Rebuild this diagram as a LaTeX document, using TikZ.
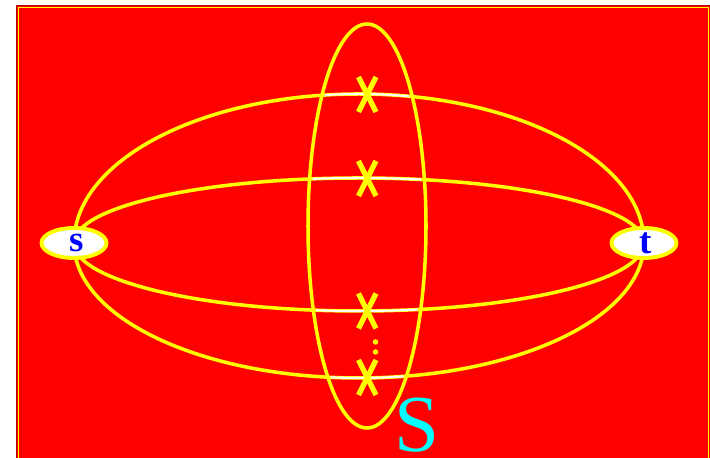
\documentclass[tikz,border=0pt]{standalone}
\usepackage{fontspec}
\setmainfont{Liberation Serif}
\usetikzlibrary{shapes.geometric, positioning}
\definecolor{Cut_Red}{HTML}{FF0000}
\definecolor{Cut_Edge}{HTML}{B00000}
\definecolor{Cut_Yellow}{HTML}{FFFF00}
\definecolor{Cut_Blue}{HTML}{0000FF}
\definecolor{Cut_Cyan}{HTML}{00FFFF}

\tikzset{
    terminal/.style={ellipse, draw=Cut_Yellow, line width=2.2pt, fill=white,
        minimum width=1.3cm, minimum height=0.6cm, inner sep=0pt,
        text=Cut_Blue, font=\fontsize{21}{24}\selectfont\bfseries},
    path edge/.style={draw=Cut_Yellow, line width=2pt},
    cut edge/.style={draw=white, line width=1.2pt},
    cut mark/.style={draw=Cut_Yellow, line width=3pt}
}

\begin{document}
\begin{tikzpicture}
    \useasboundingbox (0,0) rectangle (14.2,9.16);
    \clip (0,0) rectangle (14.2,9.16);

    % ===== Background panel =====
    \fill[Cut_Red] (0.32,-0.3) rectangle (14.2,9.06);
    \draw[Cut_Edge, line width=0.6pt] (0.33,-0.3) -- (0.33,9.05) -- (14.3,9.05);
    \draw[Cut_Yellow, line width=0.6pt] (0.37,-0.3) -- (0.37,9.01) -- (14.17,9.01) -- (14.17,-0.3);

    % ===== Terminals and cut centre =====
    \coordinate (sc) at (1.48,4.30);
    \coordinate (tc) at (12.88,4.30);
    \coordinate (cutc) at (7.34,4.64);

    % s-t paths (upper and lower halves)
    \foreach \ry/\ea in {2.98/0, 1.30/0, 1.36/360, 2.70/360}
        \draw[path edge] (sc) arc[start angle=180, end angle=\ea, x radius=5.7, y radius=\ry];

    % The cut S
    \draw[path edge] (cutc) ellipse [x radius=1.18, y radius=4.04];

    % Edges inside the cut are shown white
    \begin{scope}
        \clip (cutc) ellipse [x radius=1.12, y radius=3.98];
        \foreach \ry/\ea in {2.98/0, 1.30/0, 1.36/360, 2.70/360}
            \draw[cut edge] (sc) arc[start angle=180, end angle=\ea, x radius=5.7, y radius=\ry];
    \end{scope}

    % Crosses on the cut edges
    \foreach \y in {7.27, 5.59, 2.94, 1.61} {
        \draw[cut mark] (7.17,\y+0.35) -- (7.52,\y-0.35);
        \draw[cut mark] (7.52,\y+0.35) -- (7.17,\y-0.35);
    }
    \fill[Cut_Yellow] (7.51,2.32) circle (0.055);
    \fill[Cut_Yellow] (7.51,2.12) circle (0.055);

    % Terminal nodes
    \node[terminal] (s) at (sc) {\hspace*{0.1cm}s};
    \node[terminal] (t) at (tc) {\hspace*{0.06cm}t};

    % Label of the cut
    \node[text=Cut_Cyan, font=\fontsize{46}{50}\selectfont, inner sep=0pt] (cutlabel) at (8.34,0.66) {S};
\end{tikzpicture}
\end{document}
